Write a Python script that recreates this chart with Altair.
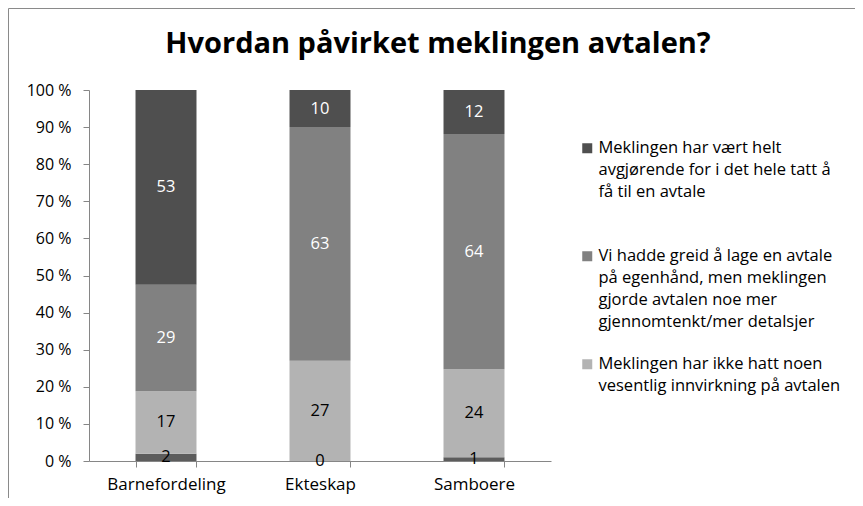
import altair as alt
import pandas as pd

# ---- data ----
kategorier = ["Barnefordeling", "Ekteskap", "Samboere"]

serie_navn = [
    "Ikke oppgitt",
    "\u00a0Meklingen har ikke hatt noen|vesentlig innvirkning på avtalen",
    "Vi hadde greid å lage en avtale|på egenhånd, men meklingen|gjorde avtalen noe mer|gjennomtenkt/mer detalsjer",
    "\u00a0Meklingen har vært helt|avgjørende for i det hele tatt å|få til en avtale",
]
ikke_oppgitt = [2, 0, 1]
ingen_innvirkning = [17, 27, 24]
mer_gjennomtenkt = [29, 63, 64]
avgjorende = [53, 10, 12]

serie_verdier = [ikke_oppgitt, ingen_innvirkning, mer_gjennomtenkt, avgjorende]
farger = ["#5c5c5c", "#b3b3b3", "#818181", "#4f4f4f"]
y_ticks = [0, 0.1, 0.2, 0.3, 0.4, 0.5, 0.6, 0.7, 0.8, 0.9, 1.0]

rows = []
for r, (navn, verdier) in enumerate(zip(serie_navn, serie_verdier)):
    for kat, v in zip(kategorier, verdier):
        rows.append({"kategori": kat, "serie": navn, "rekkefolge": r, "verdi": v})
df = pd.DataFrame(rows)

FONT = "Open Sans"
W, H = 462, 371
GREY = "#868686"

x_enc = alt.X(
    "kategori:N", sort=kategorier, title=None,
    scale=alt.Scale(paddingInner=0.604, paddingOuter=0.302),
    axis=alt.Axis(labelAngle=0, tickBand="extent", tickSize=6, labelPadding=9,
                  domainColor=GREY, tickColor=GREY, labelColor="black",
                  labelFont=FONT, labelFontSize=17),
)

base = alt.Chart(df)

bars = base.mark_bar().encode(
    x=x_enc,
    y=alt.Y("verdi:Q", stack="normalize", title=None,
            scale=alt.Scale(domain=[0, 1], nice=False),
            axis=alt.Axis(values=y_ticks, grid=False, tickSize=6,
                          labelPadding=12, labelOverlap=False,
                          labelExpr="format(datum.value * 100, '.0f') + ' %'",
                          domainColor=GREY, tickColor=GREY, labelColor="black",
                          labelFont=FONT, labelFontSize=16)),
    color=alt.Color(
        "serie:N",
        scale=alt.Scale(domain=serie_navn, range=farger),
        legend=alt.Legend(
            values=[serie_navn[3], serie_navn[2], serie_navn[1]],
            title=None, orient="none", legendX=490, legendY=55,
            direction="vertical", columns=1, padding=0,
            symbolType="M-1,-2H1V0H-1Z", symbolSize=100, symbolStrokeWidth=0,
            labelFont=FONT, labelFontSize=16.5, labelColor="black",
            labelBaseline="alphabetic", labelLimit=400, labelOffset=3,
            rowPadding=25,
            labelExpr="indexof(datum.label, 'avgj') >= 0 ? split(datum.label + '|', '|') : split(datum.label, '|')",
        ),
    ),
    order=alt.Order("rekkefolge:Q", sort="ascending"),
)

labels = base.transform_joinaggregate(
    total="sum(verdi)", groupby=["kategori"]
).transform_window(
    kum="sum(verdi)", groupby=["kategori"],
    sort=[alt.SortField("rekkefolge", order="ascending")], frame=[None, 0]
).transform_calculate(
    midt="(datum.kum - datum.verdi / 2) / datum.total"
).mark_text(font=FONT, fontSize=16.5).encode(
    x=alt.X("kategori:N", sort=kategorier, axis=None),
    y=alt.Y("midt:Q", axis=None),
    text=alt.Text("verdi:Q"),
    color=alt.condition("datum.rekkefolge >= 2", alt.value("white"), alt.value("black")),
)

ramme_df = pd.DataFrame({"k": [0]})
ramme_v = alt.Chart(ramme_df).mark_rule(color="#8a8a8a", strokeWidth=1).encode(
    x=alt.value(-80.5), y=alt.value(-81.5), y2=alt.value(H + 60)
)
ramme_h = alt.Chart(ramme_df).mark_rule(color="#8a8a8a", strokeWidth=1).encode(
    x=alt.value(-80.5), x2=alt.value(W + 320), y=alt.value(-81.5)
)

chart = alt.layer(ramme_v, ramme_h, bars, labels).resolve_axis(
    x="independent", y="independent"
).properties(
    width=W, height=H,
    title=alt.Title("Hvordan påvirket meklingen avtalen?", font=FONT, fontSize=29,
                    fontWeight="bold", color="black", anchor="middle", frame="group",
                    baseline="alphabetic", dx=118, offset=-74),
    autosize=alt.AutoSizeParams(type="none"),
    padding={"left": 81, "top": 82, "right": 304, "bottom": 37},
).configure(
    view=alt.ViewConfig(stroke=None),
    style={"guide-label": {"lineHeight": 22}},
)

chart.save("out.html", embed_options={"renderer": "svg", "actions": False})
